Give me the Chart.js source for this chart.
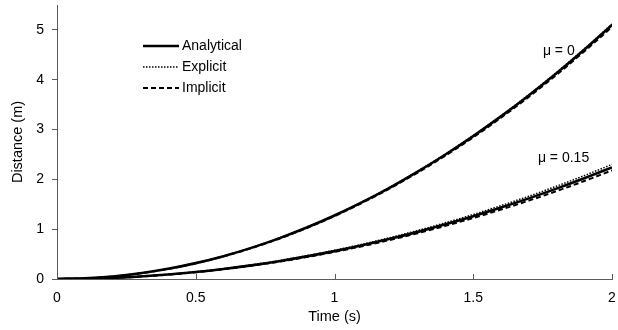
<!DOCTYPE html>
<html lang="en">
<head>
  <meta charset="UTF-8">
  <title>Distance vs time</title>
  <script src="https://cdn.jsdelivr.net/npm/chart.js@4/dist/chart.umd.min.js"></script>
  <style>
    html, body { margin: 0; padding: 0; background: #fff; }
    #myChart { display: block; }
  </style>
</head>
<body>
  <canvas id="myChart" width="618" height="330"></canvas>
<script>
  // data
  const times = [0, 0.1, 0.2, 0.3, 0.4, 0.5, 0.6, 0.7, 0.8, 0.9, 1.0,
                 1.1, 1.2, 1.3, 1.4, 1.5, 1.6, 1.7, 1.8, 1.9, 2.0];
  const mu0Analytical = [0, 0.013, 0.051, 0.115, 0.204, 0.319, 0.459, 0.625, 0.816, 1.033, 1.275,
                         1.543, 1.836, 2.155, 2.499, 2.869, 3.264, 3.685, 4.131, 4.603, 5.100];
  const mu0Explicit   = [0, 0.013, 0.052, 0.116, 0.205, 0.321, 0.461, 0.628, 0.820, 1.038, 1.281,
                         1.550, 1.844, 2.164, 2.509, 2.880, 3.277, 3.699, 4.146, 4.619, 5.117];
  const mu0Implicit   = [0, 0.012, 0.050, 0.113, 0.201, 0.315, 0.454, 0.618, 0.808, 1.023, 1.263,
                         1.529, 1.820, 2.136, 2.478, 2.845, 3.237, 3.655, 4.098, 4.567, 5.060];
  const mu15Analytical = [0, 0.006, 0.022, 0.050, 0.090, 0.140, 0.202, 0.274, 0.358, 0.454, 0.560,
                          0.678, 0.806, 0.946, 1.098, 1.260, 1.434, 1.618, 1.814, 2.022, 2.240];
  const mu15Explicit   = [0, 0.006, 0.023, 0.052, 0.093, 0.145, 0.209, 0.284, 0.370, 0.468, 0.577,
                          0.698, 0.830, 0.974, 1.129, 1.295, 1.473, 1.662, 1.863, 2.076, 2.300];
  const mu15Implicit   = [0, 0.005, 0.021, 0.048, 0.087, 0.136, 0.196, 0.267, 0.348, 0.441, 0.544,
                          0.659, 0.784, 0.920, 1.067, 1.225, 1.394, 1.573, 1.764, 1.966, 2.180];
  const xTicks = [0, 0.5, 1, 1.5, 2];
  const yTicks = [0, 1, 2, 3, 4, 5];
  const legendNames = ['Analytical', 'Explicit', 'Implicit'];
  const curveLabels = ['\u03bc = 0', '\u03bc = 0.15'];
  const curveLabelAt = [[1.751, 4.58], [1.733, 2.42]];

  const FONT = '"Liberation Sans", Arial, sans-serif';
  const AXIS = '#5a5a5a';

  const styles = [
    { borderWidth: 2.6, borderDash: [] },
    { borderWidth: 1.5, borderDash: [1.5, 1.5] },
    { borderWidth: 2, borderDash: [5, 3] }
  ];

  function pts(ys) {
    return times.map((t, i) => ({ x: t, y: ys[i] }));
  }

  function makeSet(name, ys, k) {
    return {
      label: name,
      data: pts(ys),
      borderColor: '#000',
      borderWidth: styles[k].borderWidth,
      borderDash: styles[k].borderDash,
      pointRadius: 0,
      fill: false,
      cubicInterpolationMode: 'monotone'
    };
  }

  const datasets = [
    makeSet('Analytical', mu0Analytical, 0),
    makeSet('Explicit', mu0Explicit, 1),
    makeSet('Implicit', mu0Implicit, 2),
    makeSet('Analytical', mu15Analytical, 0),
    makeSet('Explicit', mu15Explicit, 1),
    makeSet('Implicit', mu15Implicit, 2)
  ];

  // legend + curve labels + inward x ticks
  const extras = {
    id: 'extras',
    afterDraw(chart) {
      const c = chart.ctx;
      const xs = chart.scales.x, ys = chart.scales.y;
      c.save();
      // x ticks pointing up
      c.strokeStyle = AXIS;
      c.lineWidth = 1;
      xTicks.forEach(v => {
        const px = Math.round(xs.getPixelForValue(v)) + 0.5;
        c.beginPath();
        c.moveTo(px, ys.bottom);
        c.lineTo(px, ys.bottom - 5);
        c.stroke();
      });
      // legend
      c.font = '14px ' + FONT;
      c.fillStyle = '#000';
      c.textBaseline = 'middle';
      c.textAlign = 'left';
      legendNames.forEach((n, i) => {
        const y = 46 + i * 21;
        c.strokeStyle = '#000';
        c.lineWidth = styles[i].borderWidth;
        c.setLineDash(styles[i].borderDash);
        c.beginPath();
        c.moveTo(143, y);
        c.lineTo(179, y);
        c.stroke();
        c.setLineDash([]);
        c.fillText(n, 182, y);
      });
      // curve labels
      curveLabels.forEach((t, i) => {
        c.fillText(t, xs.getPixelForValue(curveLabelAt[i][0]), ys.getPixelForValue(curveLabelAt[i][1]));
      });
      c.restore();
    }
  };

  function noPad(s) {
    s.paddingTop = 0; s.paddingBottom = 0; s.paddingLeft = 0; s.paddingRight = 0;
  }

  const ctx = document.getElementById('myChart').getContext('2d');
  const myChart = new Chart(ctx, {
    type: 'line',
    data: { datasets: datasets },
    plugins: [extras],
    options: {
      responsive: false,
      animation: false,
      layout: { padding: { top: 5, right: 6, left: 0, bottom: 0 } },
      plugins: { legend: { display: false }, tooltip: { enabled: false } },
      scales: {
        x: {
          type: 'linear',
          min: 0, max: 2,
          afterBuildTicks: s => { s.ticks = xTicks.map(v => ({ value: v })); },
          afterFit: s => { s.height = 51; noPad(s); },
          grid: { display: true, drawOnChartArea: false, drawTicks: false },
          border: { color: AXIS, width: 1 },
          ticks: { color: '#000', font: { family: FONT, size: 14 }, padding: 11, maxRotation: 0,
                   callback: v => String(v) },
          title: { display: true, text: 'Time (s)', color: '#000', font: { family: FONT, size: 14.5 }, padding: { top: 0, bottom: 4 } }
        },
        y: {
          type: 'linear',
          min: 0, max: 5.5,
          afterBuildTicks: s => { s.ticks = yTicks.map(v => ({ value: v })); },
          afterFit: s => { s.width = 57; noPad(s); },
          grid: { display: true, drawOnChartArea: false, drawTicks: true, tickLength: 5, color: AXIS },
          border: { color: AXIS, width: 1 },
          ticks: { color: '#000', font: { family: FONT, size: 14 }, padding: 8 },
          title: { display: true, text: 'Distance (m)', color: '#000', font: { family: FONT, size: 14.5 }, padding: { top: 9, bottom: 0 } }
        }
      }
    }
  });
</script>
</body>
</html>
